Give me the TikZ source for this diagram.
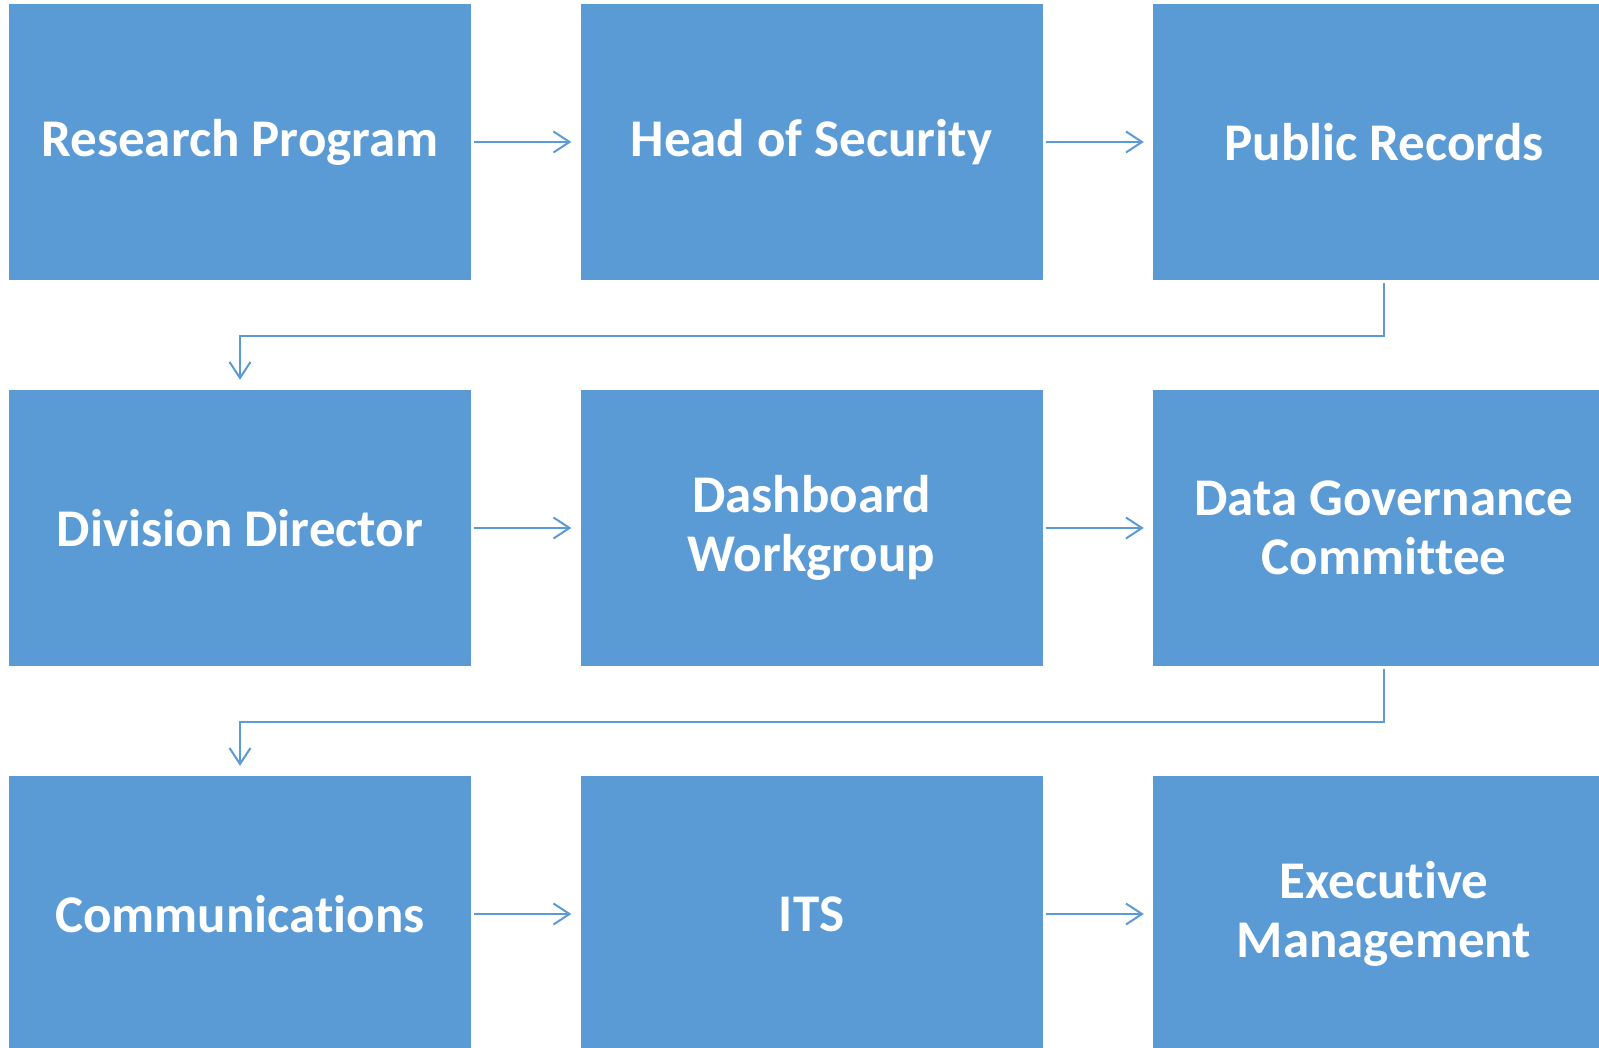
\documentclass[tikz,border=0pt]{standalone}
\usepackage{fontspec}
\setmainfont{Carlito}[Ligatures=NoCommon]
\usetikzlibrary{arrows.meta}
\definecolor{caixa}{HTML}{5B9BD5}
\tikzset{
  etapa/.style={fill=caixa, draw=none, minimum width=462pt, minimum height=276pt,
    inner sep=0pt, align=center, text=white,
    font=\fontsize{53}{59}\selectfont\bfseries},
  seta/.style={draw=caixa, line width=2pt,
    -{Straight Barb[length=16pt,width=21pt,line width=2pt]}}
}
\begin{document}
\begin{tikzpicture}[x=1pt, y=1pt]
  % --- parametros da grade ---
  \def\ca{240}
  \def\cb{811.5}
  \def\cc{1384}
  \def\la{906}
  \def\lb{520}
  \def\lc{134}

  \useasboundingbox (0,0) rectangle (1599,1048);
  \clip (0,0) rectangle (1599,1048);

  % linha 1
  \node[etapa] (pesquisa) at (\ca,\la) {Research Program};
  \node[etapa] (seguranca) at (\cb,\la) {Head of Security};
  \node[etapa] (registros) at (\cc,\la) {Public Records};

  % linha 2
  \node[etapa] (diretor) at (\ca,\lb) {Division Director};
  \node[etapa] (painel) at (\cb,\lb) {Dashboard\\Workgroup};
  \node[etapa] (comite) at (\cc,\lb) {Data Governance\\Committee};

  % linha 3
  \node[etapa] (comunicacao) at (\ca,\lc) {Communications};
  \node[etapa] (its) at (\cb,\lc) {ITS};
  \node[etapa] (gestao) at (\cc,\lc) {Executive\\Management};

  % setas horizontais
  \draw[seta, shorten <=3pt, shorten >=9pt] (pesquisa) -- (seguranca);
  \draw[seta, shorten <=3pt, shorten >=9pt] (seguranca) -- (registros);
  \draw[seta, shorten <=3pt, shorten >=9pt] (diretor) -- (painel);
  \draw[seta, shorten <=3pt, shorten >=9pt] (painel) -- (comite);
  \draw[seta, shorten <=3pt, shorten >=9pt] (comunicacao) -- (its);
  \draw[seta, shorten <=3pt, shorten >=9pt] (its) -- (gestao);

  % retornos entre linhas
  \draw[seta, shorten <=3pt, shorten >=10pt] (registros.south) -- ++(0,-56) -| (diretor.north);
  \draw[seta, shorten <=3pt, shorten >=10pt] (comite.south) -- ++(0,-56) -| (comunicacao.north);
\end{tikzpicture}
\end{document}
